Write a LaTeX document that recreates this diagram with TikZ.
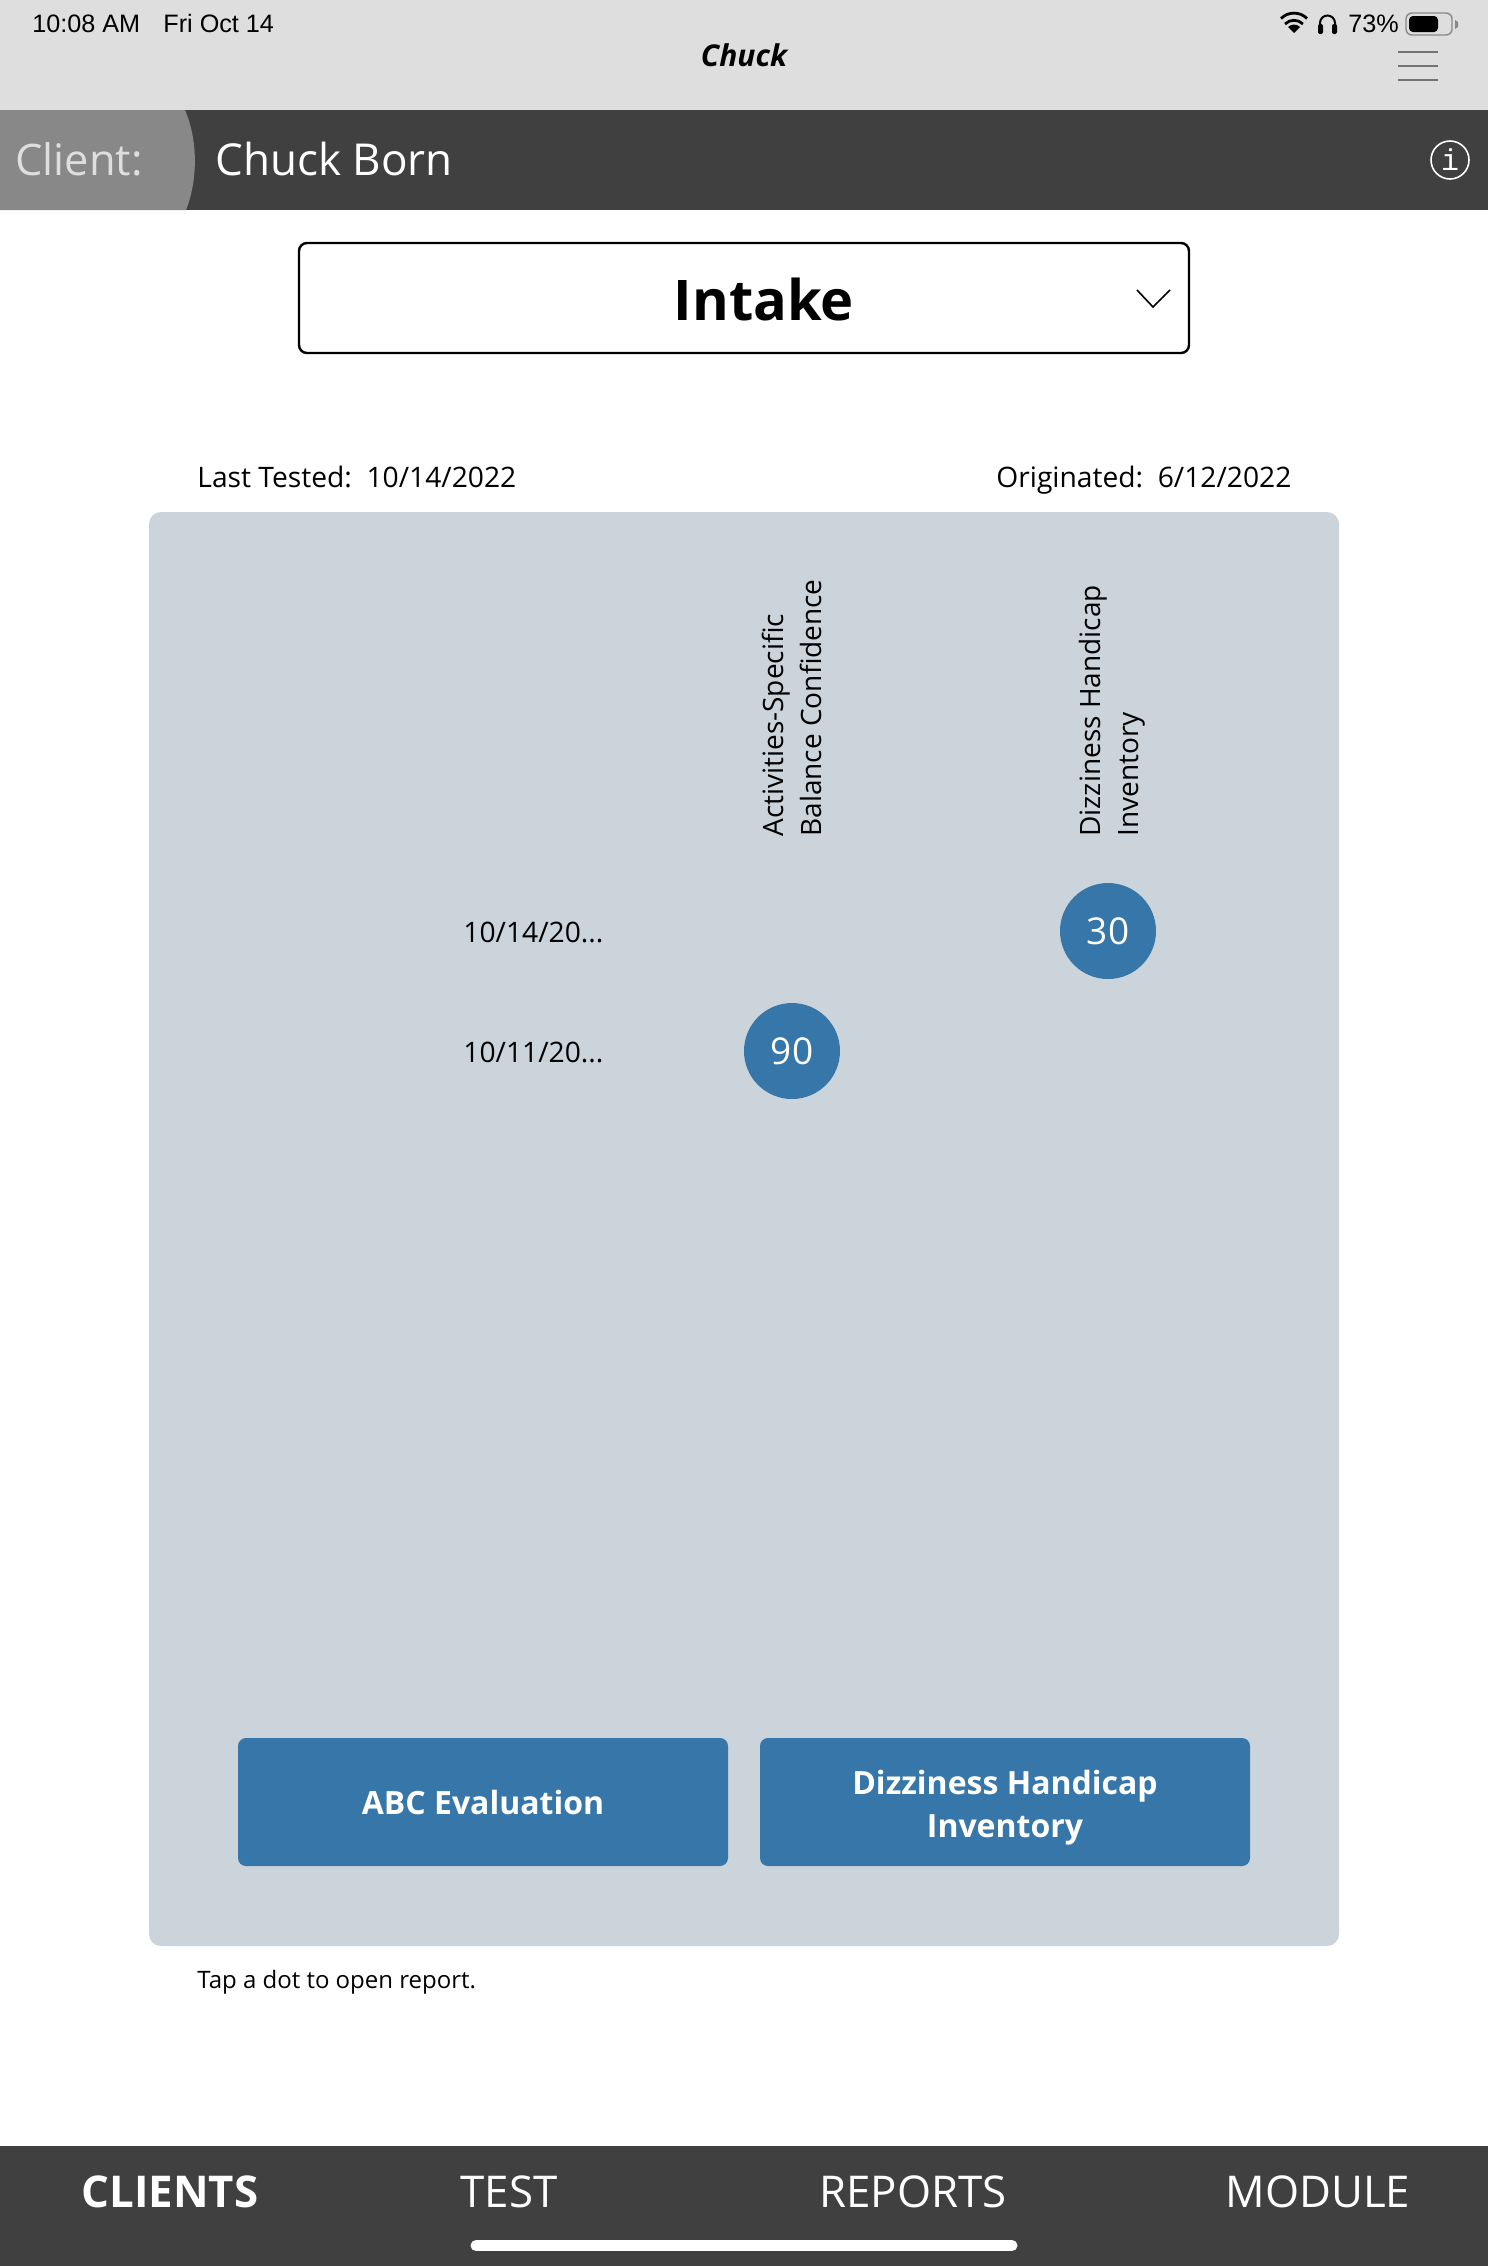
\documentclass[tikz,border=0pt]{standalone}
\usepackage{fontspec}
\setmainfont{Open Sans}
\newfontfamily\statusfont{Liberation Sans}
\newfontfamily\infofont{Liberation Mono}
\usetikzlibrary{positioning}
\definecolor{topbar}{HTML}{DEDEDE}
\definecolor{darkbar}{HTML}{404040}
\definecolor{clienttab}{HTML}{888888}
\definecolor{panelgray}{HTML}{CBD3DB}
\definecolor{dotblue}{HTML}{3776A8}
\newcommand{\fs}[1]{\fontsize{#1}{#1}\selectfont}

\begin{document}
\begin{tikzpicture}[x=0.5pt,y=0.5pt]
	\tikzstyle{every node}+=[inner sep=0pt]
	\tikzstyle{status}=[anchor=base west,font=\statusfont\fs{12.6}]
	\tikzstyle{body}=[anchor=base west,font=\fs{14.1}]
	\tikzstyle{tab}=[anchor=base,text=white,font=\fs{21.9}]
	\tikzstyle{dot}=[circle,fill=dotblue,minimum size=48pt,text=white,font=\fs{18.5}]
	\tikzstyle{actionbtn}=[fill=dotblue,rounded corners=4pt,minimum width=245pt,minimum height=64pt,text=white,align=center,font=\bfseries\fontsize{16}{21.5}\selectfont]
	\tikzstyle{headtext}=[rotate=90,anchor=west,align=left,font=\fontsize{14}{19}\selectfont]
	\useasboundingbox (0,0) rectangle (1488,-2266);
	\fill [white] (0,0) rectangle (1488,-2266);
	% status bar
	\fill [topbar] (0,0) rectangle (1488,-110);
	\draw (32,-32) node (clock) [status] {10:08 AM};
	\draw (163,-32) node (daydate) [status] {Fri Oct 14};
	\draw (1348,-32) node (percent) [status] {73\%};
	\draw (744,-66) node (title) [anchor=base,font=\bfseries\itshape\fs{15}] {Chuck};
	% wifi
	\fill [black] (1294,-33) -- (1288,-27) arc (135:45:8.5) -- cycle;
	\draw [black,line width=1.4pt] (1285,-24) arc (135:45:12.7);
	\draw [black,line width=1.4pt] (1281,-18.5) arc (135:45:18.4);
	% headphones
	\draw [black,line width=1pt] (1320,-29) -- (1320,-23) arc (180:0:7.5) -- (1335,-29);
	\fill [black,rounded corners=1pt] (1318,-24) rectangle (1323,-34);
	\fill [black,rounded corners=1pt] (1332,-24) rectangle (1337,-34);
	% battery
	\draw [clienttab,line width=0.7pt,rounded corners=3pt] (1406,-13) rectangle (1452,-35);
	\fill [black,rounded corners=2pt] (1409,-16) rectangle (1438,-32);
	\fill [clienttab] (1455,-20) -- (1458,-22) -- (1458,-27) -- (1455,-29) -- cycle;
	% menu lines
	\foreach \y in {52,66,80}
		\draw [black!55,line width=0.8pt] (1398,-\y) -- (1438,-\y);
	% client bar
	\fill [darkbar] (0,-110) rectangle (1488,-210);
	\fill [clienttab] (0,-110) -- (185,-110) .. controls (198,-140) and (198,-180) .. (186,-210) -- (0,-210) -- cycle;
	\draw (15,-175) node (clientlabel) [anchor=base west,text=topbar,font=\fs{21.7}] {Client:};
	\draw (215,-175) node (clientname) [anchor=base west,text=white,font=\fs{22}] {Chuck Born};
	\draw (1450,-160) node (info) [circle,draw=white,line width=0.8pt,minimum size=19pt,text=white,font=\infofont\fs{15}] {i};
	% session picker
	\draw [black,line width=1.2pt,rounded corners=4pt] (299,-243) rectangle (1189,-353);
	\draw (764,-320) node (intake) [anchor=base,font=\bfseries\fs{28}] {Intake};
	\draw [black,line width=0.8pt] (1137,-290) -- (1153,-307) -- (1170,-290);
	\draw (197,-487) node (lasttested) [body] {Last Tested:\ \ 10/14/2022};
	\draw (996,-487) node (originated) [body] {Originated:\ \ 6/12/2022};
	% chart panel
	\fill [panelgray,rounded corners=6pt] (149,-512) rectangle (1339,-1946);
	\draw (792,-837) node (headabc) [headtext] {Activities-Specific\\Balance Confidence};
	\draw (1112,-837) node (headdhi) [headtext] {Dizziness Handicap\\Inventory};
	\draw (463,-942) node (dateone) [body] {10/14/20...};
	\draw (463,-1062) node (datetwo) [body] {10/11/20...};
	\draw (1108,-931) node (dotthirty) [dot] {30};
	\draw (792,-1051) node (dotninety) [dot] {90};
	\draw (483,-1802) node (btnabc) [actionbtn] {ABC Evaluation};
	\draw (1005,-1802) node (btndhi) [actionbtn] {\rule{0pt}{18pt}Dizziness Handicap\\Inventory};
	\draw (197,-1988) node (hint) [anchor=base west,font=\fs{12}] {Tap a dot to open report.};
	% tab bar
	\fill [darkbar] (0,-2146) rectangle (1488,-2266);
	\draw (170,-2207) node (tabclients) [tab,font=\bfseries\fs{21.9}] {CLIENTS};
	\draw (509,-2207) node (tabtest) [tab] {TEST};
	\draw (913,-2207) node (tabreports) [tab] {REPORTS};
	\draw (1318,-2207) node (tabmodule) [tab] {MODULE};
	\draw [white,line width=5.5pt,line cap=round] (476,-2245.5) -- (1012,-2245.5);
\end{tikzpicture}
\end{document}
